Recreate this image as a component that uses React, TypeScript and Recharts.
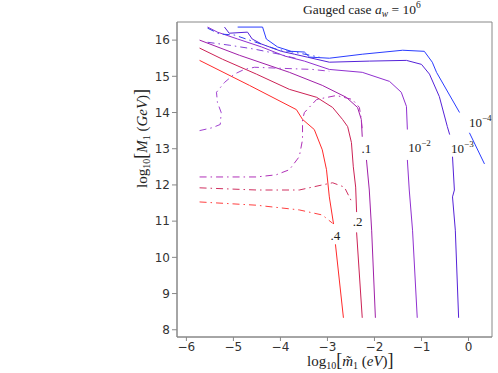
import { ComposedChart, Line, Scatter, XAxis, YAxis, ReferenceArea } from 'recharts';

type Pt = [number, number | null];

const xTicks = [-6, -5, -4, -3, -2, -1, 0];
const yTicks = [8, 9, 10, 11, 12, 13, 14, 15, 16];

// solid contours (null = gap where the contour label sits)
const c4: Pt[] = [
  [-5.72, 15.44], [-4.66, 14.75], [-3.66, 14.08], [-3.53, 13.81], [-3.28, 13.53], [-3.11, 12.97],
  [-3.02, 12.42], [-2.96, 11.67], [-2.87, 10.92], [-2.85, null], [-2.83, 10.36], [-2.66, 8.33],
];
const c2: Pt[] = [
  [-5.72, 15.78], [-5.23, 15.47], [-4.51, 15.06], [-3.81, 14.64], [-3.23, 14.42], [-2.89, 14.14],
  [-2.68, 13.81], [-2.57, 13.61], [-2.49, 13.17], [-2.45, 12.5], [-2.4, 11.94], [-2.38, 11.25],
  [-2.38, null], [-2.38, 10.69], [-2.26, 8.33],
];
const c1: Pt[] = [
  [-5.72, 16.0], [-4.87, 15.58], [-3.81, 15.11], [-3.11, 14.75], [-2.6, 14.42], [-2.36, 14.14],
  [-2.28, 13.81], [-2.26, 13.33], [-2.2, null], [-2.17, 12.69], [-2.11, 11.86], [-2.06, 10.75], [-1.98, 8.33],
];
const cE2: Pt[] = [
  [-5.55, 16.36], [-5.34, 16.22], [-4.91, 16.03], [-4.4, 15.81], [-3.91, 15.56], [-3.49, 15.42],
  [-2.96, 15.19], [-2.26, 15.11], [-1.68, 14.86], [-1.43, 14.56], [-1.32, 14.17], [-1.3, 13.53],
  [-1.3, null], [-1.3, 12.69], [-1.26, 11.86], [-1.19, 10.75], [-1.09, 8.33],
];
const cE3: Pt[] = [
  [-5.19, 16.36], [-5.09, 16.19], [-4.7, 16.22], [-4.6, 16.03], [-4.4, 15.89], [-3.98, 15.69],
  [-3.7, 15.61], [-3.43, 15.53], [-2.96, 15.39], [-2.11, 15.42], [-1.32, 15.44], [-1.0, 15.33],
  [-0.83, 15.06], [-0.62, 14.44], [-0.45, 13.61], [-0.4, 13.39], [-0.37, null], [-0.34, 12.78],
  [-0.3, 11.86], [-0.34, 11.67], [-0.28, 10.75], [-0.21, 8.33],
];
const cE4: Pt[] = [
  [-4.91, 16.36], [-4.38, 16.36], [-4.3, 16.03], [-4.06, 15.81], [-3.77, 15.69], [-3.49, 15.67],
  [-3.38, 15.53], [-2.96, 15.5], [-2.26, 15.61], [-1.4, 15.72], [-0.94, 15.69], [-0.77, 15.39],
  [-0.68, 15.11], [-0.19, 14.0], [-0.1, null], [0.02, 13.44], [0.34, 12.58],
];

// dash-dot contours
const dRed: Pt[] = [[-5.72, 11.53], [-4.51, 11.44], [-3.6, 11.31], [-3.11, 11.17], [-2.89, 10.94]];
const dCrimson: Pt[] = [
  [-5.72, 11.92], [-4.51, 11.86], [-3.6, 11.86], [-3.11, 12.0], [-2.89, 12.06], [-2.64, 11.94], [-2.47, 11.5],
];
const dPurpleLow: Pt[] = [
  [-5.72, 12.22], [-4.51, 12.22], [-4.09, 12.28], [-3.81, 12.42], [-3.6, 12.78], [-3.53, 13.25],
  [-3.53, 13.81], [-3.49, 14.0], [-3.23, 14.36], [-2.81, 14.47], [-2.47, 14.36], [-2.32, 14.14],
  [-2.28, 13.81], [-2.26, 13.53],
];
const dLoop: Pt[] = [
  [-5.72, 13.5], [-5.45, 13.58], [-5.28, 13.67], [-5.26, 14.0], [-5.34, 14.28], [-5.36, 14.56],
  [-5.19, 14.83], [-4.98, 15.06], [-4.77, 15.19], [-4.55, 15.25], [-3.96, 15.22], [-3.32, 15.19], [-2.96, 15.14],
];
const dUpper: Pt[] = [[-5.55, 15.94], [-5.09, 15.86], [-4.55, 15.75], [-4.02, 15.61], [-3.6, 15.47]];
const dBlue: Pt[] = [
  [-5.55, 16.33], [-5.3, 16.17], [-4.98, 16.14], [-4.66, 16.0], [-4.09, 15.75], [-3.6, 15.64], [-3.17, 15.53],
];

const contourLabels = [
  { x: -2.83, y: 10.6, base: '.4', exp: '' },
  { x: -2.36, y: 10.97, base: '.2', exp: '' },
  { x: -2.17, y: 13.0, base: '.1', exp: '' },
  { x: -1.04, y: 13.03, base: '10', exp: '−2' },
  { x: -0.13, y: 13.0, base: '10', exp: '−3' },
  { x: 0.25, y: 13.72, base: '10', exp: '−4' },
];

const toRows = (pts: Pt[]) => pts.map(([x, y]) => ({ x, y }));

const solid = [
  { pts: c4, color: '#ff2a2a' },
  { pts: c2, color: '#cc2255' },
  { pts: c1, color: '#a020a8' },
  { pts: cE2, color: '#9030d0' },
  { pts: cE3, color: '#5522d8' },
  { pts: cE4, color: '#2a3cff' },
];
const dashed = [
  { pts: dRed, color: '#ff4040' },
  { pts: dCrimson, color: '#d03060' },
  { pts: dPurpleLow, color: '#b030b8' },
  { pts: dLoop, color: '#a040d0' },
  { pts: dUpper, color: '#8040d8' },
  { pts: dBlue, color: '#3040f0' },
];

const serif = '"Liberation Serif", "DejaVu Serif", serif';

function LabelShape(props: any) {
  const { cx, cy, payload } = props;
  return (
    <text x={cx} y={cy + 4} textAnchor="middle" fontFamily={serif} fontSize={13} fill="#222">
      {payload.base}
      {payload.exp && (
        <tspan dy={-6} fontSize={9}>
          {payload.exp}
        </tspan>
      )}
    </text>
  );
}

export default function App() {
  return (
    <div style={{ position: 'absolute', left: 0, top: 0, width: 498, height: 373 }}>
      <ComposedChart width={498} height={373} margin={{ top: 22, right: 6, bottom: 0, left: 137 }}>
        <XAxis
          type="number"
          dataKey="x"
          domain={[-6.2, 0.5]}
          ticks={xTicks}
          allowDataOverflow
          height={36}
          tickSize={4}
          tickMargin={1}
          stroke="#888"
          tick={{ fontSize: 12, fill: '#333', fontFamily: 'DejaVu Sans' }}
          tickFormatter={(v: number) => (v < 0 ? `−${-v}` : `${v}`)}
        />
        <YAxis
          type="number"
          dataKey="y"
          domain={[7.8, 16.5]}
          ticks={yTicks}
          allowDataOverflow
          width={40}
          tickSize={5}
          tickMargin={2}
          stroke="#888"
          tick={{ fontSize: 12, fill: '#333', fontFamily: 'DejaVu Sans' }}
        />
        <ReferenceArea x1={-6.2} x2={0.5} y1={7.8} y2={16.5} fill="none" stroke="#888" strokeWidth={1} ifOverflow="visible" />
        {solid.map((s, i) => (
          <Line
            key={'s' + i}
            data={toRows(s.pts)}
            dataKey="y"
            type="linear"
            stroke={s.color}
            strokeWidth={1}
            dot={false}
            isAnimationActive={false}
          />
        ))}
        {dashed.map((s, i) => (
          <Line
            key={'d' + i}
            data={toRows(s.pts)}
            dataKey="y"
            type="linear"
            stroke={s.color}
            strokeWidth={1}
            strokeDasharray="7 4 1.5 4"
            dot={false}
            isAnimationActive={false}
          />
        ))}
        <Scatter data={contourLabels} dataKey="y" shape={LabelShape} isAnimationActive={false} />
      </ComposedChart>
      <svg width={498} height={373} style={{ position: 'absolute', left: 0, top: 0, pointerEvents: 'none' }}>
        <text x={303} y={14} fontFamily={serif} fontSize={13.5} fill="#222">
          Gauged case <tspan fontStyle="italic">a</tspan>
          <tspan dy={3} fontSize={9.5} fontStyle="italic">w</tspan>
          <tspan dy={-3}> = 10</tspan>
          <tspan dy={-6} fontSize={9.5}>6</tspan>
        </text>
        <text x={307} y={366} fontFamily={serif} fontSize={15} fill="#222">
          log<tspan dy={3} fontSize={10}>10</tspan>
          <tspan dy={-3} fontSize={18}>[</tspan>
          <tspan fontStyle="italic">m̃</tspan>
          <tspan dy={3} fontSize={10}>1</tspan>
          <tspan dy={-3}> (</tspan>
          <tspan fontStyle="italic">eV</tspan>)<tspan fontSize={18}>]</tspan>
        </text>
        <text x={147} y={188} transform="rotate(-90 147 188)" fontFamily={serif} fontSize={15} fill="#222">
          log<tspan dy={3} fontSize={10}>10</tspan>
          <tspan dy={-3} fontSize={18}>[</tspan>
          <tspan fontStyle="italic">M</tspan>
          <tspan dy={3} fontSize={10}>1</tspan>
          <tspan dy={-3}> (</tspan>
          <tspan fontStyle="italic">GeV</tspan>)<tspan fontSize={18}>]</tspan>
        </text>
      </svg>
    </div>
  );
}
